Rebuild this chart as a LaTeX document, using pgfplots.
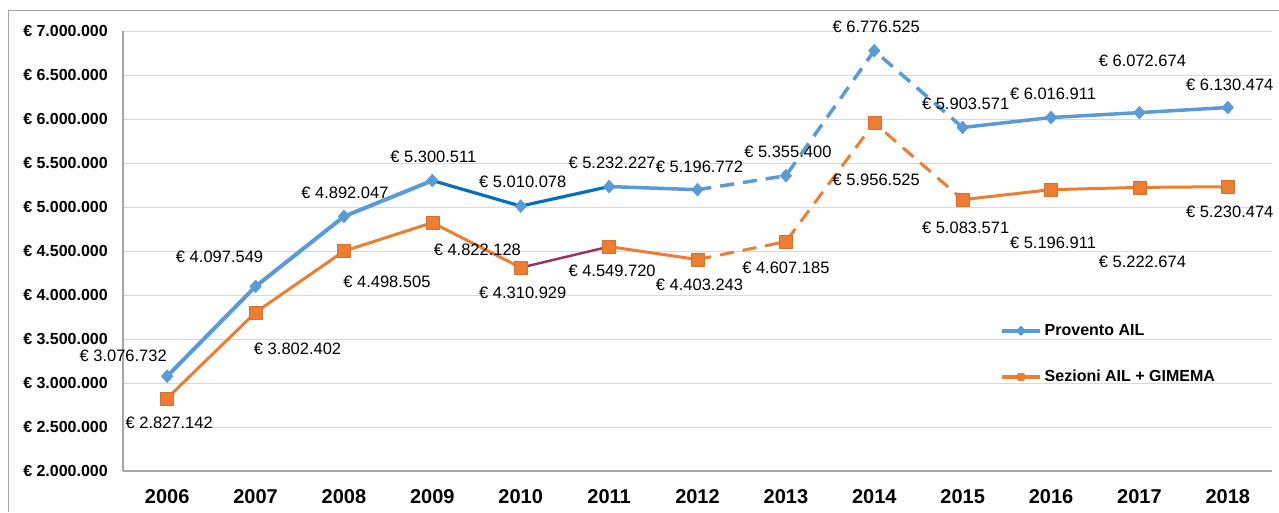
\documentclass[border=0pt]{standalone}
\usepackage{pgfplots}
\pgfplotsset{compat=1.18}
\usepackage{fontspec}
\setmainfont{Liberation Sans}
\definecolor{cblue}{HTML}{5B9BD5}
\definecolor{cdblue}{HTML}{0070C0}
\definecolor{corange}{HTML}{ED7D31}
\definecolor{cpurple}{HTML}{993366}
\definecolor{cgrid}{HTML}{C9DCF2}
\definecolor{caxis}{HTML}{A6A6A6}
\tikzset{lbl/.style={font=\fontsize{16.5}{19}\selectfont, inner sep=0pt, text=black}}
\begin{document}
\begin{tikzpicture}
\useasboundingbox (0,0) rectangle (1279pt,512pt);
\draw[caxis, line width=1pt] (8pt,0pt) -- (8pt,501pt) -- (1279pt,501pt);
\begin{axis}[
  at={(123pt,41pt)}, anchor=south west,
  width=1149pt, height=440pt, scale only axis,
  xmin=-0.5, xmax=12.5, ymin=2000000, ymax=7000000,
  scaled y ticks=false,
  clip=false,
  axis lines*=left,
  axis line style={caxis, line width=1.2pt},
  major tick length=0pt,
  ymajorgrids, grid style={cgrid, line width=1pt},
  xtick={0,1,2,3,4,5,6,7,8,9,10,11,12},
  xticklabels={2006,2007,2008,2009,2010,2011,2012,2013,2014,2015,2016,2017,2018},
  ytick={2000000,2500000,3000000,3500000,4000000,4500000,5000000,5500000,6000000,6500000,7000000},
  yticklabels={€ 2.000.000,€ 2.500.000,€ 3.000.000,€ 3.500.000,€ 4.000.000,€ 4.500.000,€ 5.000.000,€ 5.500.000,€ 6.000.000,€ 6.500.000,€ 7.000.000},
  xticklabel style={font=\fontsize{20}{24}\selectfont\bfseries, anchor=center, inner sep=0pt, yshift=-26pt},
  yticklabel style={font=\fontsize{16}{19}\selectfont\bfseries, anchor=east, inner sep=0pt, xshift=-15pt},
  legend style={at={(0.7633,0.336)}, anchor=north west, draw=none, fill=none, inner sep=0pt,
    font=\fontsize{16}{19}\selectfont\bfseries, row sep=31pt,
    nodes={inner sep=0pt, text height=12pt, text depth=3pt}},
  legend cell align=left,
  legend image code/.code={\draw[mark repeat=2,mark phase=2] plot coordinates {(0pt,0pt) (19pt,0pt) (38pt,0pt)};},
  every axis plot/.append style={line join=round},
]
\addlegendimage{cblue, line width=3.5pt, mark=diamond*, mark size=3pt, mark options={solid}}
\addlegendentry{\hspace{3pt}Provento AIL}
\addlegendimage{corange, line width=3.5pt, mark=square*, mark size=2.5pt, mark options={solid}}
\addlegendentry{\hspace{3pt}Sezioni AIL + GIMEMA}

% Orange segments
\addplot[forget plot, corange, line width=3pt] coordinates {(0,2827142) (1,3802402) (2,4498505) (3,4822128) (4,4310929)};
\addplot[forget plot, cpurple, line width=2.5pt] coordinates {(4,4310929) (5,4549720)};
\addplot[forget plot, corange, line width=3pt] coordinates {(5,4549720) (6,4403243)};
\addplot[forget plot, corange, line width=3pt, dash pattern=on 14pt off 9pt] coordinates {(6,4403243) (7,4607185) (8,5956525) (9,5083571)};
\addplot[forget plot, corange, line width=3pt] coordinates {(9,5083571) (10,5196911) (11,5222674) (12,5230474)};
% Blue segments
\addplot[forget plot, cblue, line width=4pt] coordinates {(0,3076732) (1,4097549) (2,4892047) (3,5300511)};
\addplot[forget plot, cdblue, line width=3.2pt] coordinates {(3,5300511) (4,5010078) (5,5232227)};
\addplot[forget plot, cblue, line width=3.5pt] coordinates {(5,5232227) (6,5196772)};
\addplot[forget plot, cblue, line width=3.5pt, dash pattern=on 14pt off 9pt] coordinates {(6,5196772) (7,5355400) (8,6776525) (9,5903571)};
\addplot[forget plot, cblue, line width=3.5pt] coordinates {(9,5903571) (10,6016911) (11,6072674) (12,6130474)};
% Markers
\addplot[forget plot, only marks, mark=square*, mark size=6.5pt, mark options={fill=corange, draw=corange!90!black, line width=0.4pt}]
  coordinates {(0,2827142) (1,3802402) (2,4498505) (3,4822128) (4,4310929) (5,4549720) (6,4403243) (7,4607185) (8,5956525) (9,5083571) (10,5196911) (11,5222674) (12,5230474)};
\addplot[forget plot, only marks, mark=diamond*, mark size=6.5pt, mark options={fill=cblue, draw=cblue, line width=0.4pt, xscale=1.2}]
  coordinates {(0,3076732) (1,4097549) (2,4892047) (3,5300511) (4,5010078) (5,5232227) (6,5196772) (7,5355400) (8,6776525) (9,5903571) (10,6016911) (11,6072674) (12,6130474)};

% Labels blue
\node[lbl] at ([xshift=-44pt,yshift=20pt]axis cs:0,3076732) {€ 3.076.732};
\node[lbl] at ([xshift=-36pt,yshift=30pt]axis cs:1,4097549) {€ 4.097.549};
\node[lbl] at ([xshift=1pt,yshift=24pt]axis cs:2,4892047) {€ 4.892.047};
\node[lbl] at ([xshift=1pt,yshift=24pt]axis cs:3,5300511) {€ 5.300.511};
\node[lbl] at ([xshift=2pt,yshift=24pt]axis cs:4,5010078) {€ 5.010.078};
\node[lbl] at ([xshift=3pt,yshift=24pt]axis cs:5,5232227) {€ 5.232.227};
\node[lbl] at ([xshift=2pt,yshift=23pt]axis cs:6,5196772) {€ 5.196.772};
\node[lbl] at ([xshift=2pt,yshift=24pt]axis cs:7,5355400) {€ 5.355.400};
\node[lbl] at ([xshift=2pt,yshift=24pt]axis cs:8,6776525) {€ 6.776.525};
\node[lbl] at ([xshift=3pt,yshift=24pt]axis cs:9,5903571) {€ 5.903.571};
\node[lbl] at ([xshift=2pt,yshift=24pt]axis cs:10,6016911) {€ 6.016.911};
\node[lbl] at ([xshift=3pt,yshift=52pt]axis cs:11,6072674) {€ 6.072.674};
\node[lbl] at ([xshift=2pt,yshift=23pt]axis cs:12,6130474) {€ 6.130.474};
% Labels orange
\node[lbl] at ([xshift=2pt,yshift=-25pt]axis cs:0,2827142) {€ 2.827.142};
\node[lbl] at ([xshift=42pt,yshift=-36pt]axis cs:1,3802402) {€ 3.802.402};
\node[lbl] at ([xshift=43pt,yshift=-31pt]axis cs:2,4498505) {€ 4.498.505};
\node[lbl] at ([xshift=45pt,yshift=-27pt]axis cs:3,4822128) {€ 4.822.128};
\node[lbl] at ([xshift=2pt,yshift=-25pt]axis cs:4,4310929) {€ 4.310.929};
\node[lbl] at ([xshift=3pt,yshift=-24pt]axis cs:5,4549720) {€ 4.549.720};
\node[lbl] at ([xshift=2pt,yshift=-25pt]axis cs:6,4403243) {€ 4.403.243};
\node[lbl] at ([xshift=0pt,yshift=-26pt]axis cs:7,4607185) {€ 4.607.185};
\node[lbl] at ([xshift=2pt,yshift=-57pt]axis cs:8,5956525) {€ 5.956.525};
\node[lbl] at ([xshift=3pt,yshift=-28pt]axis cs:9,5083571) {€ 5.083.571};
\node[lbl] at ([xshift=2pt,yshift=-53pt]axis cs:10,5196911) {€ 5.196.911};
\node[lbl] at ([xshift=3pt,yshift=-74pt]axis cs:11,5222674) {€ 5.222.674};
\node[lbl] at ([xshift=2pt,yshift=-25pt]axis cs:12,5230474) {€ 5.230.474};
\end{axis}
\end{tikzpicture}
\end{document}
